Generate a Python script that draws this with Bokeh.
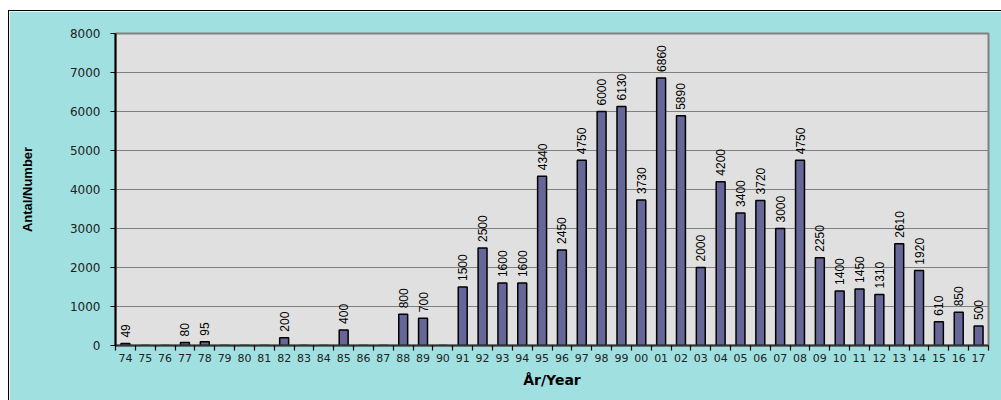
import numpy as np
from bokeh.plotting import figure
from bokeh.models import ColumnDataSource, FixedTicker, LabelSet, Range1d
from bokeh.core.properties import value
from bokeh.embed import file_html
from bokeh.resources import INLINE

years = ["74", "75", "76", "77", "78", "79", "80", "81", "82", "83", "84", "85", "86", "87",
         "88", "89", "90", "91", "92", "93", "94", "95", "96", "97", "98", "99", "00", "01",
         "02", "03", "04", "05", "06", "07", "08", "09", "10", "11", "12", "13", "14", "15",
         "16", "17"]
counts = [49, 0, 0, 80, 95, 0, 0, 0, 200, 0, 0, 400, 0, 0,
          800, 700, 0, 1500, 2500, 1600, 1600, 4340, 2450, 4750, 6000, 6130, 3730, 6860,
          5890, 2000, 4200, 3400, 3720, 3000, 4750, 2250, 1400, 1450, 1310, 2610, 1920, 610,
          850, 500]
y_ticks = [0, 1000, 2000, 3000, 4000, 5000, 6000, 7000, 8000]
x_title = "År/Year"
y_title = "Antal/Number"

n = len(years)
centers = [i + 0.5 for i in range(n)]
bounds = [float(i) for i in range(n + 1)]

src = ColumnDataSource(dict(x=centers, top=counts, year=years))
lab = ColumnDataSource(dict(
    x=[c for c, v in zip(centers, counts) if v > 0],
    y=[v for v in counts if v > 0],
    t=[str(v) for v in counts if v > 0],
))

p = figure(frame_width=873, frame_height=312,
           x_range=Range1d(0, n), y_range=Range1d(0, 8000),
           output_backend="svg", toolbar_location=None,
           min_border_left=106, min_border_top=22, min_border_right=13, min_border_bottom=55)
p.margin = (10, 0, 0, 8)
p.styles = {"border-left": "1px solid #000000", "border-top": "1px solid #000000"}
p.border_fill_color = "#A0E0E0"
p.background_fill_color = "#E0E0E0"
p.outline_line_color = "#808080"
p.outline_line_width = 2

p.vbar(x="x", top="top", width=0.45, source=src, fill_color="#666699",
       line_color="#000000", line_width=1.5)

p.add_layout(LabelSet(x="x", y="y", text="t", source=lab, angle=np.pi / 2,
                      text_align="left", text_baseline="middle", y_offset=6,
                      text_font=value("Liberation Sans"),
                      text_font_size="12px", text_color="#000000"))

p.xgrid.visible = False
p.ygrid.ticker = FixedTicker(ticks=y_ticks)
p.ygrid.grid_line_color = "#808080"
p.ygrid.grid_line_width = 1.2

xa = p.xaxis[0]
xa.ticker = FixedTicker(ticks=centers, minor_ticks=bounds)
xa.major_label_overrides = {c: y for c, y in zip(centers, years)}
xa.major_tick_out = 0
xa.major_tick_in = 0
xa.minor_tick_out = 5
xa.minor_tick_in = 0
xa.minor_tick_line_color = "#000000"
xa.minor_tick_line_width = 1.2
xa.axis_line_color = "#333333"
xa.axis_line_width = 2
xa.major_label_standoff = 3
xa.major_label_text_font = "DejaVu Sans"
xa.major_label_text_font_size = "11px"
xa.major_label_text_color = "#222222"
xa.axis_label = x_title
xa.axis_label_text_font = "DejaVu Sans"
xa.axis_label_text_font_style = "bold"
xa.axis_label_text_font_size = "14px"
xa.axis_label_text_color = "#000000"
xa.axis_label_standoff = 7

ya = p.yaxis[0]
ya.ticker = FixedTicker(ticks=y_ticks)
ya.major_tick_out = 5
ya.major_tick_in = 0
ya.minor_tick_out = 0
ya.minor_tick_in = 0
ya.major_tick_line_color = "#000000"
ya.major_tick_line_width = 1.2
ya.axis_line_color = "#000000"
ya.axis_line_width = 2
ya.major_label_standoff = 10
ya.major_label_text_font = "DejaVu Sans"
ya.major_label_text_font_size = "12px"
ya.major_label_text_color = "#222222"
ya.axis_label = y_title
ya.axis_label_text_font = "Liberation Sans"
ya.axis_label_text_font_style = "bold"
ya.axis_label_text_font_size = "13px"
ya.axis_label_text_color = "#000000"
ya.axis_label_standoff = 32

open("out.html", "w").write(file_html(p, INLINE))
